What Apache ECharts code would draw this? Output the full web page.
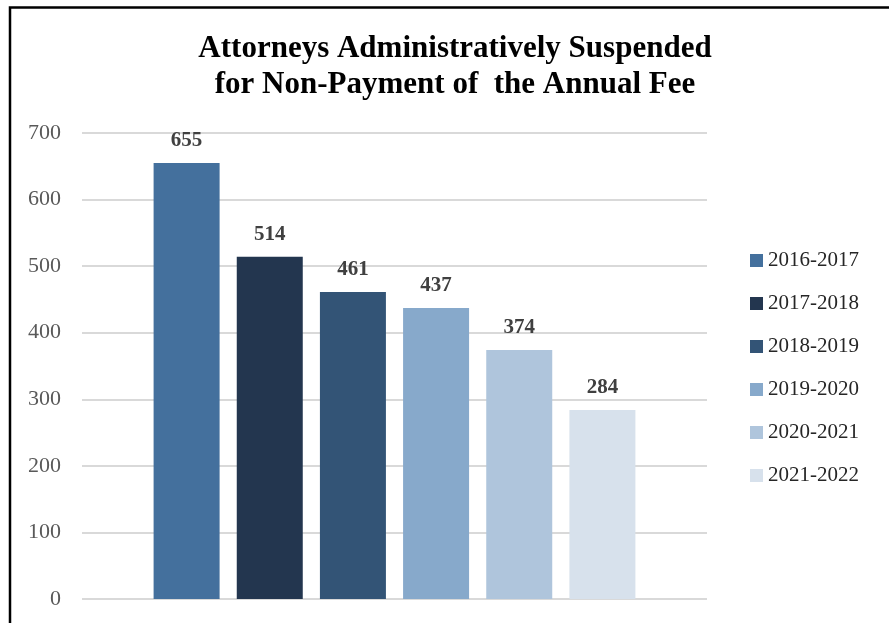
<!DOCTYPE html>
<html>
<head>
<meta charset="utf-8">
<script src="https://cdn.jsdelivr.net/npm/echarts@6/dist/echarts.min.js"></script>
<style>
html,body{margin:0;padding:0;background:#fff;}
#chart{width:889px;height:623px;}
</style>
</head>
<body>
<div id="chart"></div>
<script>
const seriesNames = ['2016-2017','2017-2018','2018-2019','2019-2020','2020-2021','2021-2022'];
const seriesValues = [655, 514, 461, 437, 374, 284];
const seriesColors = ['#44709D','#23364F','#335476','#87A9CB','#AFC5DC','#D7E1EC'];
const categories = [''];
const yTicks = [0,100,200,300,400,500,600,700];

const FONT = '"Liberation Serif", "DejaVu Serif", serif';
const chart = echarts.init(document.getElementById('chart'));
const series = seriesNames.map((n, i) => ({
  name: n,
  type: 'bar',
  data: [seriesValues[i]],
  barWidth: 66,
  barGap: '26%',
  itemStyle: { color: seriesColors[i] },
  label: {
    show: true, position: 'top', distance: 12,
    fontFamily: FONT, fontSize: 21, fontWeight: 'bold', color: '#404040', lineHeight: 21
  }
}));
chart.setOption({
  animation: false,
  backgroundColor: '#fff',
  title: {
    text: 'Attorneys Administratively Suspended\nfor Non-Payment of  the Annual Fee',
    left: 450, top: 26, textAlign: 'center',
    textStyle: { fontFamily: FONT, fontSize: 31, fontWeight: 'bold', color: '#000', lineHeight: 36 }
  },
  legend: {
    orient: 'vertical', left: 745, top: 245,
    itemWidth: 13, itemHeight: 13, itemGap: 22,
    icon: 'rect',
    textStyle: { fontFamily: FONT, fontSize: 21, color: '#262626', lineHeight: 21 },
    data: seriesNames
  },
  grid: { left: 82, right: 182, top: 133, bottom: 24 },
  xAxis: {
    type: 'category', data: categories,
    axisLine: { show: false }, axisTick: { show: false }, axisLabel: { show: false }
  },
  yAxis: {
    type: 'value', min: yTicks[0], max: yTicks[yTicks.length-1], interval: 100,
    axisLine: { show: false }, axisTick: { show: false },
    axisLabel: { fontFamily: FONT, fontSize: 22, color: '#595959', margin: 21 },
    splitLine: { lineStyle: { color: '#D9D9D9', width: 2 } }
  },
  graphic: [{
    type: 'polyline',
    shape: { points: [[10, 630], [10, 7.5], [900, 7.5]] },
    style: { stroke: '#000', lineWidth: 2.5, fill: null }
  }],
  series: series
});
</script>
</body>
</html>
